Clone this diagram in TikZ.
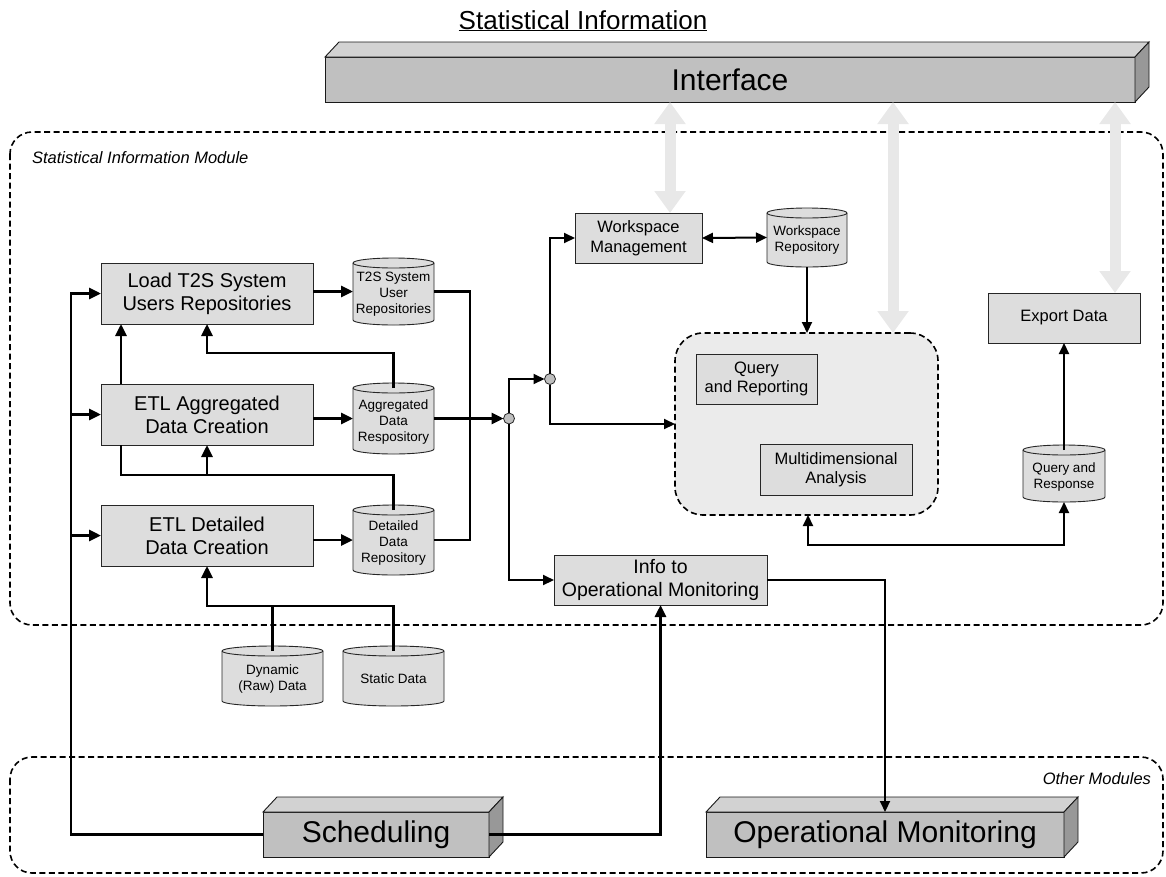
\documentclass[tikz,border=0pt]{standalone}
\usepackage{fontspec}
\setmainfont{Liberation Sans}
\usetikzlibrary{arrows.meta,calc}
\definecolor{boxgray}{RGB}{221,221,221}
\definecolor{frontgray}{RGB}{192,192,192}
\definecolor{topgray}{RGB}{210,210,210}
\definecolor{sidegray}{RGB}{152,152,152}
\definecolor{cloudgray}{RGB}{235,235,235}
\definecolor{lightarr}{RGB}{232,232,232}
\definecolor{jgray}{RGB}{190,190,190}
\newcommand{\dbcyl}[6]{%
  \pgfmathsetmacro{\cylcx}{(#2+#4)/2}%
  \pgfmathsetmacro{\cylrx}{(#4-#2)/2}%
  \pgfmathsetmacro{\cylcy}{(#3+#5)/2}%
  \filldraw[cylbody] (#2,{#3+5}) -- (#2,{#5-5}) arc[start angle=180,end angle=0,x radius=\cylrx,y radius=5] -- (#4,{#3+5}) arc[start angle=0,end angle=-180,x radius=\cylrx,y radius=5] -- cycle;
  \draw[cylbody,fill=none] (#2,{#3+5}) arc[start angle=180,end angle=0,x radius=\cylrx,y radius=5];
  \node[minimum width={(#4-#2)*1pt},minimum height={(#5-#3)*1pt}] (#1) at (\cylcx,\cylcy) {};
  \node[cylfont] at (\cylcx,{\cylcy+3}) {#6};
}
\begin{document}
\begin{tikzpicture}[x=1pt,y=-1pt,
  every node/.style={inner sep=0pt,outer sep=0pt},
  procbox/.style={draw=black!85,line width=0.9pt,fill=boxgray,align=center},
  bigfont/.style={font=\fontsize{20pt}{23pt}\selectfont},
  midfont/.style={font=\fontsize{16.5pt}{19.5pt}\selectfont},
  cylfont/.style={font=\fontsize{13.5pt}{16pt}\selectfont,align=center},
  cylbody/.style={draw=black!85,line width=0.9pt,fill=boxgray},
  solidbox/.style={draw=black!90,line width=0.9pt,fill=frontgray,font=\fontsize{30pt}{34pt}\selectfont},
  topface/.style={draw=black!90,line width=0.9pt,fill=topgray},
  sideface/.style={draw=black!90,line width=0.9pt,fill=sidegray},
  modframe/.style={draw=black,line width=1.6pt,dash pattern=on 6pt off 3.5pt,rounded corners=22pt},
  thickline/.style={line width=2.8pt},
  conn/.style={line width=2.8pt,-{Triangle[length=12pt,width=11pt]}},
  medline/.style={line width=2pt},
  medconn/.style={line width=2pt,-{Triangle[length=11pt,width=10pt]}},
  meddbl/.style={line width=2pt,{Triangle[length=11pt,width=10pt]}-{Triangle[length=11pt,width=10pt]}},
  thinline/.style={line width=1.2pt},
  lightarrow/.style={draw=lightarr,line width=11pt,{Triangle[length=22pt,width=30pt]}-{Triangle[length=22pt,width=30pt]}},
  junction/.style={circle,draw=black!85,fill=jgray,line width=0.8pt,minimum size=11pt}
]
\useasboundingbox (0,0) rectangle (1166,876);

% module frames
\draw[modframe] (10,132) rectangle (1163,625);
\draw[modframe] (10,757) rectangle (1163,873);
\node[anchor=west,font=\itshape\fontsize{16.5pt}{19pt}\selectfont] (simlbl) at (32,158) {Statistical Information Module};
\node[anchor=east,font=\itshape\fontsize{16.5pt}{19pt}\selectfont] (omlbl) at (1151,779) {Other Modules};

% title
\node[anchor=base,font=\fontsize{26pt}{30pt}\selectfont] (title) at (583,29) {\underline{Statistical Information}};

% Interface 3D box
\node[solidbox,minimum width=810pt,minimum height=45pt] (iface) at (730,79.5) {Interface};
\filldraw[topface] (iface.north west) -- ++(14,-15) -- ($(iface.north east)+(14,-15)$) -- (iface.north east) -- cycle;
\filldraw[sideface] (iface.north east) -- ++(14,-15) -- ($(iface.south east)+(14,-15)$) -- (iface.south east) -- cycle;

% process boxes
\node[procbox,bigfont,minimum width=212pt,minimum height=61pt] (loadt2s) at (207,293.5) {Load T2S System\\Users Repositories};
\node[procbox,bigfont,minimum width=212pt,minimum height=61pt] (etlagg) at (207,414.5) {ETL Aggregated\\Data Creation};
\node[procbox,bigfont,minimum width=212pt,minimum height=61pt] (etldet) at (207,535.5) {ETL Detailed\\Data Creation};
\node[procbox,midfont,minimum width=127pt,minimum height=50pt] (wm) at (638.5,238) {Workspace\\Management};
\node[procbox,midfont,minimum width=152pt,minimum height=50pt] (export) at (1064,318) {Export Data};
\node[procbox,font=\fontsize{19.5pt}{23pt}\selectfont,minimum width=213pt,minimum height=50pt] (info) at (660.5,580) {Info to\\Operational Monitoring};

% analysis area
\node[draw=black,fill=cloudgray,line width=1.6pt,dash pattern=on 6pt off 3.5pt,rounded corners=28pt,minimum width=263pt,minimum height=182pt] (cloud) at (806.5,424) {};
\node[procbox,midfont,minimum width=121pt,minimum height=50pt] (qrep) at (756.5,379) {Query\\and Reporting};
\node[procbox,midfont,minimum width=152pt,minimum height=51pt] (mda) at (836,469.5) {Multidimensional\\Analysis};

% light interface arrows
\coordinate (a1) at (670,0);
\coordinate (a2) at (893,0);
\coordinate (a3) at (1115,0);
\draw[lightarrow] (iface.south -| a1) -- (wm.north -| a1);
\draw[lightarrow] (iface.south -| a2) -- (cloud.north -| a2);
\draw[lightarrow] (iface.south -| a3) -- (export.north -| a3);

% repositories
\dbcyl{t2scyl}{353}{258}{434}{325}{T2S System\\User\\Repositories}
\dbcyl{aggcyl}{353}{383}{434}{454}{Aggregated\\Data\\Respository}
\dbcyl{detcyl}{353}{505}{434}{575}{Detailed\\Data\\Repository}
\dbcyl{wscyl}{767}{208}{847}{267}{Workspace\\Repository}
\dbcyl{qrcyl}{1023}{445}{1105}{502}{Query and\\Response}
\dbcyl{dyncyl}{222}{646}{323}{706}{Dynamic\\(Raw) Data}
\dbcyl{statcyl}{343}{646}{444}{706}{Static Data}

% other modules 3D boxes
\node[solidbox,minimum width=226pt,minimum height=45pt] (sched) at (376,834.5) {Scheduling};
\filldraw[topface] (sched.north west) -- ++(14,-15) -- ($(sched.north east)+(14,-15)$) -- (sched.north east) -- cycle;
\filldraw[sideface] (sched.north east) -- ++(14,-15) -- ($(sched.south east)+(14,-15)$) -- (sched.south east) -- cycle;
\node[solidbox,minimum width=358pt,minimum height=45pt] (opmon) at (885,834.5) {Operational Monitoring};
\filldraw[topface] (opmon.north west) -- ++(14,-15) -- ($(opmon.north east)+(14,-15)$) -- (opmon.north east) -- cycle;
\filldraw[sideface] (opmon.north east) -- ++(14,-15) -- ($(opmon.south east)+(14,-15)$) -- (opmon.south east) -- cycle;

% junctions
\node[junction] (j1) at (509,418.5) {};
\node[junction] (j2) at (550,379) {};

% helper coordinates
\coordinate (bus) at (71,0);
\coordinate (c121) at (121,0);
\coordinate (c470) at (470,0);
\coordinate (c808) at (808,0);
\coordinate (h1) at (0,353);
\coordinate (h2) at (0,475);
\coordinate (h3) at (0,545);
\coordinate (h4) at (0,606);

% scheduling bus
\draw[conn] (sched.west) -| (bus |- loadt2s.west) -- (loadt2s.west);
\draw[conn] (bus |- etlagg.west) -- (etlagg.west);
\draw[conn] (bus |- etldet.west) -- (etldet.west);

% boxes to repositories
\draw[conn] (loadt2s.east |- t2scyl.west) -- (t2scyl.west);
\draw[conn] (etlagg.east |- aggcyl.west) -- (aggcyl.west);
\draw[conn] (etldet.east |- detcyl.west) -- (detcyl.west);

% feedbacks
\draw[conn] (etlagg.north -| c121) -- (loadt2s.south -| c121);
\draw[conn] ($(aggcyl.north)+(0,5)$) |- (h1 -| loadt2s.south) -- (loadt2s.south);
\draw[conn] ($(detcyl.north)+(0,5)$) |- (h2 -| etlagg.south) -- (etlagg.south);
\draw[thinline] (etlagg.south -| c121) -- (c121 |- h2) -- (h2 -| etlagg.south);
\draw[conn] ($(dyncyl.north)+(0,5)$) |- (h4 -| etldet.south) -- (etldet.south);
\draw[thickline] ($(statcyl.north)+(0,5)$) |- (h4 -| dyncyl.north);

% repositories to junction
\draw[thickline] (t2scyl.east) -| (c470 |- detcyl.east) -- (detcyl.east);
\draw[conn] (aggcyl.east) -- (j1.west);
\draw[medconn] (j1.north) |- (j2.west);
\draw[medconn] (j2.north) |- (wm.west);
\draw[medconn] (j2.south) |- (cloud.west);
\draw[medconn] (j1.south) |- (info.west);

% workspace and analysis
\draw[meddbl] (wm.east) -- (wscyl.west);
\draw[medconn] (wscyl.south) -- (cloud.north -| wscyl.south);
\draw[meddbl] (cloud.south -| c808) |- (h3 -| qrcyl.south) -- (qrcyl.south);
\draw[medconn] ($(qrcyl.north)+(0,5)$) -- (export.south);

% operational monitoring
\draw[medconn] (info.east) -| (opmon.north);
\draw[conn] (sched.east) -| (info.south);
\end{tikzpicture}
\end{document}
